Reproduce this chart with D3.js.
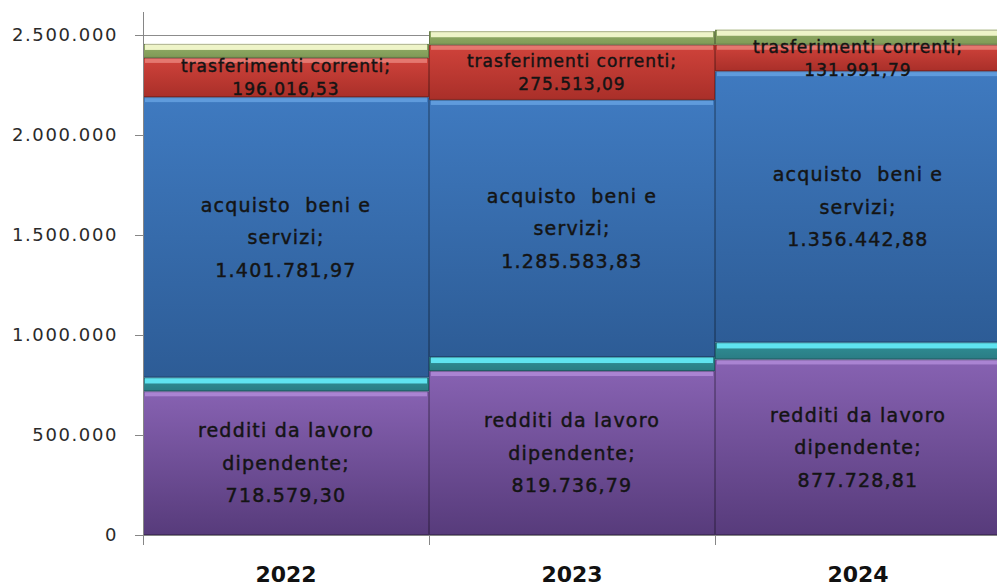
<!DOCTYPE html>
<html>
<head>
<meta charset="utf-8">
<script src="https://cdn.jsdelivr.net/npm/d3@7.9.0/dist/d3.min.js"></script>
<style>
  body { margin: 0; background: #fff; }
  svg { display: block; }
  .tick-y text { font-family: "DejaVu Sans", sans-serif; font-size: 18px; fill: #2a2a2a; letter-spacing: 1.6px; }
  .tick-x text { font-family: "DejaVu Sans", sans-serif; font-size: 22px; font-weight: bold; fill: #111; }
  .lbl { font-family: "DejaVu Sans", sans-serif; fill: #141414; stroke: #141414; stroke-width: 0.45px; white-space: pre; }
</style>
</head>
<body>
<svg id="chart" width="997" height="586"></svg>
<script>
// data
const years = ["2022", "2023", "2024"];
const redditi = [718579.30, 819736.79, 877728.81];
const imposte = [69000, 70000, 85000];          // thin cyan band, no label
const acquisto = [1401781.97, 1285583.83, 1356442.88];
const trasferimenti = [196016.53, 275513.09, 131991.79];
const altre = [70000, 68000, 75000];            // thin green band, no label
const yTicks = [0, 500000, 1000000, 1500000, 2000000, 2500000];

const seriesNames = ["redditi", "imposte", "acquisto", "trasferimenti", "altre"];
const seriesValues = [redditi, imposte, acquisto, trasferimenti, altre];
const labelLines = {
  redditi: ["redditi da lavoro", "dipendente;"],
  acquisto: ["acquisto  beni e", "servizi;"],
  trasferimenti: ["trasferimenti correnti;"]
};

// top / bottom / bevel colours per series
const palette = {
  redditi:       { top: "#8762b2", bottom: "#573b7b", bevel: "#b690de" },
  imposte:       { top: "#2f8f96", bottom: "#2a7c84", bevel: "#5fe3f0" },
  acquisto:      { top: "#3f7ac0", bottom: "#2d5c96", bevel: "#6ba7e6" },
  trasferimenti: { top: "#d0433b", bottom: "#a92f29", bevel: "#ec8a82" },
  altre:         { top: "#93ad68", bottom: "#7f9a56", bevel: "#eef4c8" }
};

const itLocale = d3.formatLocale({ decimal: ",", thousands: ".", grouping: [3], currency: ["€", ""] });
const fmtTick = itLocale.format(",.0f");
const fmtVal = itLocale.format(",.2f");

const table = years.map((y, i) => {
  const row = { year: y };
  seriesNames.forEach((s, k) => row[s] = seriesValues[k][i]);
  return row;
});

const svg = d3.select("#chart");
const margin = { left: 143, right: -4, top: 15, bottom: 51 };
const W = 997, H = 586;

const x = d3.scaleBand().domain(years).range([margin.left, W - margin.right]).padding(0);
const y = d3.scaleLinear().domain([0, 2600000]).range([H - margin.bottom, margin.top]);

// gradients
const defs = svg.append("defs");
seriesNames.forEach(s => {
  const g = defs.append("linearGradient").attr("id", "g-" + s)
    .attr("x1", 0).attr("y1", 0).attr("x2", 0).attr("y2", 1);
  g.append("stop").attr("offset", "0%").attr("stop-color", palette[s].top);
  g.append("stop").attr("offset", "100%").attr("stop-color", palette[s].bottom);
});

// gridlines
svg.append("g").selectAll("line").data(yTicks).join("line")
  .attr("x1", margin.left).attr("x2", W)
  .attr("y1", d => Math.round(y(d)) + 0.5).attr("y2", d => Math.round(y(d)) + 0.5)
  .attr("stroke", "#8c8c8c").attr("stroke-width", 1);

const stack = d3.stack().keys(seriesNames)(table);

const layers = svg.append("g").selectAll("g").data(stack).join("g");

layers.each(function(layer) {
  const key = layer.key;
  const thin = key === "imposte" || key === "altre";
  const g = d3.select(this);
  g.selectAll("rect.body").data(layer).join("rect").attr("class", "body")
    .attr("x", d => x(d.data.year))
    .attr("width", x.bandwidth())
    .attr("y", d => y(d[1]))
    .attr("height", d => y(d[0]) - y(d[1]))
    .attr("fill", `url(#g-${key})`);
  // bevel highlight along the top edge
  g.selectAll("rect.bevel").data(layer).join("rect").attr("class", "bevel")
    .attr("x", d => x(d.data.year) + 2)
    .attr("width", x.bandwidth() - 4)
    .attr("y", d => y(d[1]))
    .attr("height", d => Math.min(thin ? 6 : 5, (y(d[0]) - y(d[1])) / 2))
    .attr("fill", palette[key].bevel)
    .attr("opacity", thin ? 1 : 0.75);
  // dark outline
  g.selectAll("rect.edge").data(layer).join("rect").attr("class", "edge")
    .attr("x", d => x(d.data.year) + 0.5)
    .attr("width", x.bandwidth() - 1)
    .attr("y", d => y(d[1]) + 0.5)
    .attr("height", d => Math.max(0, y(d[0]) - y(d[1]) - 1))
    .attr("fill", "none")
    .attr("stroke", "rgba(0,0,0,0.25)");
});

// segment labels
stack.forEach(layer => {
  const lines = labelLines[layer.key];
  if (!lines) return;
  const small = layer.key === "trasferimenti";
  const fs = small ? 17 : 19;
  const lh = small ? 23 : 32.5;
  layer.forEach(d => {
    const all = lines.concat([fmtVal(d.data[layer.key])]);
    const cy = (y(d[0]) + y(d[1])) / 2;
    const cx = x(d.data.year) + x.bandwidth() / 2;
    const t = svg.append("text").attr("class", "lbl")
      .attr("text-anchor", "middle")
      .attr("font-size", fs)
      .attr("letter-spacing", small ? 1 : 1.2);
    all.forEach((ln, i) => {
      t.append("tspan")
        .attr("x", cx)
        .attr("y", cy + (i - (all.length - 1) / 2) * lh + fs * 0.36)
        .text(ln);
    });
  });
});

// axes
const yAxis = svg.append("g").attr("class", "tick-y")
  .attr("transform", `translate(${margin.left},0)`)
  .call(d3.axisLeft(y).tickValues(yTicks).tickFormat(fmtTick).tickSize(8).tickPadding(17).tickSizeOuter(0));
yAxis.select(".domain").attr("stroke", "#868686").attr("d", `M0.5,${H - margin.bottom}V12`);
yAxis.selectAll(".tick line").attr("stroke", "#868686");

const xAxis = svg.append("g").attr("class", "tick-x")
  .attr("transform", `translate(0,${H - margin.bottom})`);
xAxis.append("line").attr("x1", margin.left - 8).attr("x2", W)
  .attr("y1", 0.5).attr("y2", 0.5).attr("stroke", "#868686");
xAxis.selectAll("line.t").data(years).join("line").attr("class", "t")
  .attr("x1", d => Math.round(x(d)) + 0.5).attr("x2", d => Math.round(x(d)) + 0.5)
  .attr("y1", 0).attr("y2", 10).attr("stroke", "#868686");
xAxis.selectAll("text").data(years).join("text")
  .attr("x", d => x(d) + x.bandwidth() / 2)
  .attr("y", 47)
  .attr("text-anchor", "middle")
  .text(d => d);
</script>
</body>
</html>
